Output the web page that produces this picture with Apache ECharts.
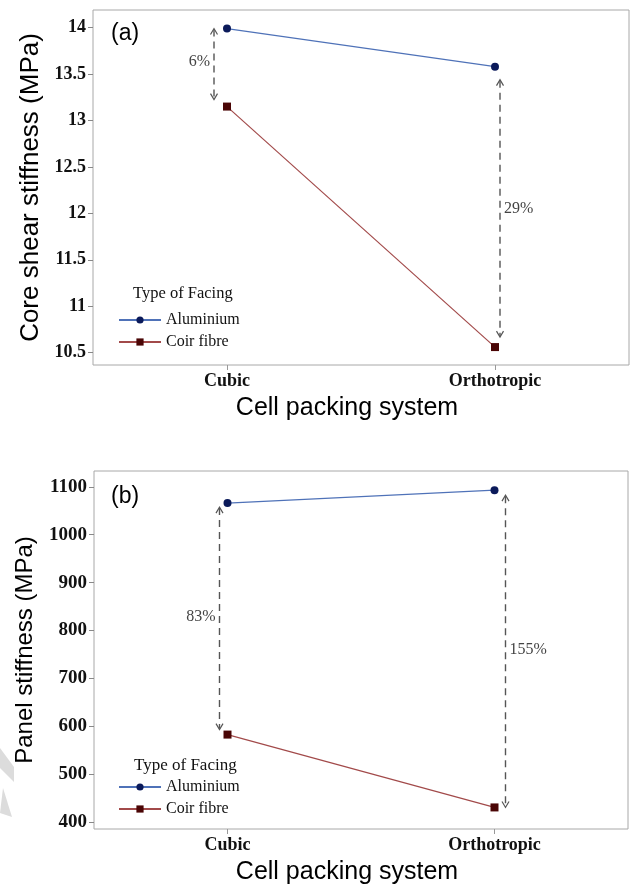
<!DOCTYPE html>
<html>
<head>
<meta charset="utf-8">
<script src="https://cdn.jsdelivr.net/npm/echarts@6/dist/echarts.min.js"></script>
<style>
  html,body {margin:0;padding:0;background:#fff;}
  #chart {width:631px;height:887px;}
</style>
</head>
<body>
<div id="chart"></div>
<script>
// data
var categories = ['Cubic', 'Orthotropic'];
var aluminiumA = [13.99, 13.58];
var coirA = [13.15, 10.56];
var aluminiumB = [1066, 1093];
var coirB = [583, 431];
var ticksA = [10.5, 11, 11.5, 12, 12.5, 13, 13.5, 14];
var ticksB = [400, 500, 600, 700, 800, 900, 1000, 1100];
// percentage difference arrows: category index, label
var arrowCatA = [0, 1];
var arrowTextA = ['6%', '29%'];
var arrowCatB = [0, 1];
var arrowTextB = ['83%', '155%'];

var serif = '"Liberation Serif", "Times New Roman", serif';
var sans = '"Liberation Sans", Arial, sans-serif';
var alLine = '#4f72b8', alMark = '#0b1a5a';
var coLine = '#a24a4a', coMark = '#4a0505';

var myChart = echarts.init(document.getElementById('chart'));

function yAxisOpt(idx, min, max, ticks, name, gap, nameSize, labelSize) {
  return {
    type: 'value', gridIndex: idx, min: min, max: max,
    name: name, nameLocation: 'middle', nameGap: gap,
    nameTextStyle: {fontFamily: sans, fontSize: nameSize, color: '#000'},
    axisLine: {show: false},
    splitLine: {show: false},
    axisTick: {show: true, length: 5, lineStyle: {color: '#888'}, customValues: ticks},
    axisLabel: {customValues: ticks, fontFamily: serif, fontWeight: 'bold', fontSize: labelSize, color: '#111', margin: 7,
      formatter: function (v) { return String(v); }}
  };
}
function xAxisOpt(idx) {
  return {
    type: 'category', gridIndex: idx, data: categories, boundaryGap: true,
    name: 'Cell packing system', nameLocation: 'middle', nameGap: 31,
    nameTextStyle: {fontFamily: sans, fontSize: 25, color: '#000', padding: [0, 28, 0, 0]},
    axisLine: {show: false},
    axisTick: {show: true, alignWithLabel: true, length: 5, lineStyle: {color: '#999'}},
    axisLabel: {fontFamily: serif, fontWeight: 'bold', fontSize: 18, color: '#111', margin: 7}
  };
}
function lineSeries(name, idx, data, symbol, lc, mc) {
  return {
    name: name, type: 'line', xAxisIndex: idx, yAxisIndex: idx, data: data,
    symbol: symbol, symbolSize: 8,
    lineStyle: {color: lc, width: 1.2},
    itemStyle: {color: mc},
    animation: false, z: 3
  };
}
// dashed double arrow between the two facings
function arrowSeries(idx, cats, texts, top, bottom, opts) {
  var rows = cats.map(function (c, i) {
    return [c, top[c], bottom[c], i];
  });
  return {
    type: 'custom', xAxisIndex: idx, yAxisIndex: idx, data: rows, silent: true, z: 2,
    renderItem: function (params, api) {
      var i = api.value(3);
      var o = opts[i];
      var p1 = api.coord([api.value(0), api.value(1)]);
      var p2 = api.coord([api.value(0), api.value(2)]);
      var x = p1[0] + o.dx;
      var y1 = p1[1] + o.gapTop, y2 = p2[1] - o.gapBot;
      var c = '#555';
      var ah = 6, aw = 3.5;
      var ty = (y1 + y2) / 2;
      return {
        type: 'group',
        children: [
          {type: 'line', shape: {x1: x, y1: y1 + 1, x2: x, y2: y2 - 1},
            style: {stroke: c, lineWidth: 1.4, lineDash: [7, 5]}},
          {type: 'polyline', shape: {points: [[x - aw, y1 + ah], [x, y1], [x + aw, y1 + ah]]},
            style: {stroke: c, lineWidth: 1.2, fill: null}},
          {type: 'polyline', shape: {points: [[x - aw, y2 - ah], [x, y2], [x + aw, y2 - ah]]},
            style: {stroke: c, lineWidth: 1.2, fill: null}},
          {type: 'text', x: o.side == 'left' ? x - 4 : x + 4, y: ty + (o.dy || 0),
            style: {text: texts[i], fontFamily: serif, fontSize: 16, fill: '#444',
              align: o.side == 'left' ? 'right' : 'left', verticalAlign: 'middle'}}
        ]
      };
    }
  };
}

var option = {
  backgroundColor: '#fff',
  animation: false,
  grid: [
    {left: 93, top: 10, width: 536, height: 355, show: true, borderColor: '#a8a8a8', borderWidth: 1},
    {left: 94, top: 471, width: 534, height: 358, show: true, borderColor: '#a8a8a8', borderWidth: 1}
  ],
  xAxis: [xAxisOpt(0), xAxisOpt(1)],
  yAxis: [
    yAxisOpt(0, 10.367, 14.19, ticksA, 'Core shear stiffness (MPa)', 42, 26, 18),
    yAxisOpt(1, 386, 1133, ticksB, 'Panel stiffness (MPa)', 57, 24, 19)
  ],
  legend: [
    {orient: 'vertical', left: 113, top: 307, itemWidth: 42, itemHeight: 9, itemGap: 6,
      data: ['Aluminium', 'Coir fibre'],
      textStyle: {fontFamily: serif, fontSize: 16, color: '#111'}},
    {orient: 'vertical', left: 113, top: 774, itemWidth: 42, itemHeight: 9, itemGap: 6,
      data: ['Aluminium', 'Coir fibre'],
      textStyle: {fontFamily: serif, fontSize: 16, color: '#111'}}
  ],
  graphic: [
    {type: 'text', left: 133, top: 285, style: {text: 'Type of Facing', fontFamily: serif, fontSize: 16.5, fill: '#111'}},
    {type: 'text', left: 134, top: 757, style: {text: 'Type of Facing', fontFamily: serif, fontSize: 17, fill: '#111'}},
    {type: 'text', left: 111, top: 22, style: {text: '(a)', fontFamily: sans, fontSize: 23, fill: '#000'}},
    {type: 'text', left: 111, top: 485, style: {text: '(b)', fontFamily: sans, fontSize: 23, fill: '#000'}},
    {type: 'polygon', shape: {points: [[0, 748], [14, 767], [14, 782], [0, 768]]}, style: {fill: '#dcdcdc'}},
    {type: 'polygon', shape: {points: [[3, 788], [12, 817], [0, 813]]}, style: {fill: '#dcdcdc'}}
  ],
  series: [
    lineSeries('Aluminium', 0, aluminiumA, 'circle', alLine, alMark),
    lineSeries('Coir fibre', 0, coirA, 'rect', coLine, coMark),
    lineSeries('Aluminium', 1, aluminiumB, 'circle', alLine, alMark),
    lineSeries('Coir fibre', 1, coirB, 'rect', coLine, coMark),
    arrowSeries(0, arrowCatA, arrowTextA, aluminiumA, coirA, [
      {dx: -13, gapTop: 0, gapBot: 7, side: 'left', dy: -2},
      {dx: 5, gapTop: 13, gapBot: 10, side: 'right', dy: 0}
    ]),
    arrowSeries(1, arrowCatB, arrowTextB, aluminiumB, coirB, [
      {dx: -8, gapTop: 4, gapBot: 5, side: 'left', dy: -2},
      {dx: 11, gapTop: 5, gapBot: 0, side: 'right', dy: -2}
    ])
  ]
};
myChart.setOption(option);
</script>
</body>
</html>
